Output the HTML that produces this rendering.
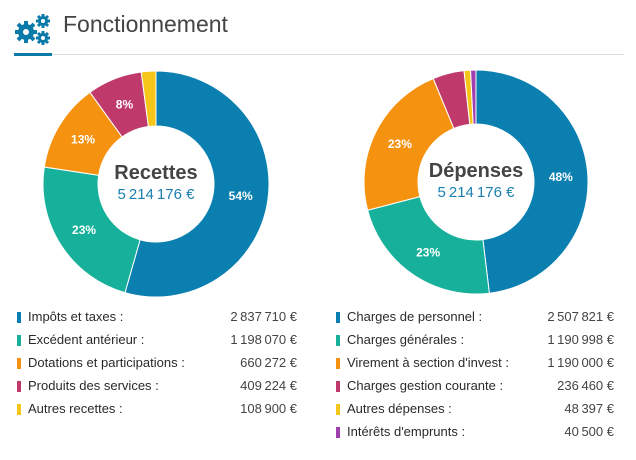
<!DOCTYPE html>
<html><head><meta charset="utf-8"><style>
body{margin:0;width:636px;height:460px;background:#fff;font-family:"Liberation Sans",sans-serif;position:relative;overflow:hidden}
.t{position:absolute;font-size:13px;color:#2a2a2a}
.v{position:absolute;font-size:13px;color:#444;text-align:right}
.m{position:absolute;width:4px;height:11px}
</style></head><body>
<svg style="position:absolute;left:14px;top:12px" width="40" height="34" viewBox="0 0 40 34">
<g fill="#0a7aa8"><circle cx="12" cy="20" r="8"/><g stroke="#0a7aa8" stroke-width="4"><line x1="12" y1="9" x2="12" y2="31"/><line x1="1" y1="20" x2="23" y2="20"/><line x1="4" y1="12" x2="20" y2="28"/><line x1="20" y1="12" x2="4" y2="28"/></g><circle cx="12" cy="20" r="3" fill="#fff"/>
<circle cx="29" cy="9" r="5"/><g stroke="#0a7aa8" stroke-width="3"><line x1="29" y1="2" x2="29" y2="16"/><line x1="22" y1="9" x2="36" y2="9"/><line x1="24" y1="4" x2="34" y2="14"/><line x1="34" y1="4" x2="24" y2="14"/></g><circle cx="29" cy="9" r="2" fill="#fff"/>
<circle cx="29" cy="26" r="5"/><g stroke="#0a7aa8" stroke-width="3"><line x1="29" y1="19" x2="29" y2="33"/><line x1="22" y1="26" x2="36" y2="26"/><line x1="24" y1="21" x2="34" y2="31"/><line x1="34" y1="21" x2="24" y2="31"/></g><circle cx="29" cy="26" r="2" fill="#fff"/></g></svg>
<div style="position:absolute;left:63px;top:11px;font-size:23px;color:#444">Fonctionnement</div>
<div style="position:absolute;left:14px;top:54px;width:610px;height:1px;background:#ddd"></div>
<div style="position:absolute;left:14px;top:53px;width:38px;height:3px;background:#0a7aa8"></div>
<svg id="chart" style="position:absolute;left:0;top:0" width="636" height="300"></svg>
<div id="legend"></div>
<script>
const recLabels=["Impôts et taxes :","Excédent antérieur :","Dotations et participations :","Produits des services :","Autres recettes :"];
const recValues=[2837710,1198070,660272,409224,108900];
const depLabels=["Charges de personnel :","Charges générales :","Virement à section d'invest :","Charges gestion courante :","Autres dépenses :","Intérêts d'emprunts :"];
const depValues=[2507821,1190998,1190000,236460,48397,40500];
const colors=["#0a7fb0","#17b09a","#f5920f","#c0396b","#f5c518","#a040b0"];
const svg=document.getElementById('chart');const NS="http://www.w3.org/2000/svg";
function fmt(n){return n.toString().replace(/\B(?=(\d{3})+(?!\d))/g,"\u202f")}
function donut(cx,cy,R,r,vals,title,name){
 const tot=vals.reduce((a,b)=>a+b,0);let a0=-Math.PI/2;
 vals.forEach((v,i)=>{const a1=a0+v/tot*2*Math.PI;const lg=(a1-a0)>Math.PI?1:0;
  const p=document.createElementNS(NS,'path');
  const d=`M${cx+R*Math.cos(a0)},${cy+R*Math.sin(a0)}A${R},${R} 0 ${lg} 1 ${cx+R*Math.cos(a1)},${cy+R*Math.sin(a1)}L${cx+r*Math.cos(a1)},${cy+r*Math.sin(a1)}A${r},${r} 0 ${lg} 0 ${cx+r*Math.cos(a0)},${cy+r*Math.sin(a0)}Z`;
  p.setAttribute('d',d);p.setAttribute('fill',colors[i]);p.setAttribute('stroke','#fff');p.setAttribute('stroke-width','1');
  
  
  svg.appendChild(p);
  const pct=Math.round(v/tot*100);
  if(pct>=8){const am=(a0+a1)/2,rm=(R+r)/2;const t=document.createElementNS(NS,'text');
   t.setAttribute('x',cx+rm*Math.cos(am));t.setAttribute('y',cy+rm*Math.sin(am)+4);t.setAttribute('text-anchor','middle');
   t.setAttribute('fill','#fff');t.setAttribute('font-size','12');t.setAttribute('font-weight','bold');t.textContent=pct+'%';
   
   
   svg.appendChild(t);}
  a0=a1;});
 const t1=document.createElementNS(NS,'text');t1.setAttribute('x',cx);t1.setAttribute('y',cy-5);t1.setAttribute('text-anchor','middle');t1.setAttribute('font-size','20');t1.setAttribute('font-weight','bold');t1.setAttribute('fill','#444');t1.textContent=title;
 
 
 svg.appendChild(t1);
 const t2=document.createElementNS(NS,'text');t2.setAttribute('x',cx);t2.setAttribute('y',cy+15);t2.setAttribute('text-anchor','middle');t2.setAttribute('font-size','15');t2.setAttribute('fill','#1a7fb0');t2.textContent=fmt(tot)+' €';
 
 
 svg.appendChild(t2);
}
donut(156,184,113,58,recValues,'Recettes','recettes');
donut(476,182,112,58,depValues,'Dépenses','depenses');
const lg=document.getElementById('legend');
function legend(labels,vals,mx,vr,name){labels.forEach((l,i)=>{const y=309+i*23;
 const m=document.createElement('div');m.className='m';m.style.left=mx+'px';m.style.top=(y+3)+'px';m.style.background=colors[i];
 
 
 lg.appendChild(m);
 const t=document.createElement('div');t.className='t';t.style.left=(mx+11)+'px';t.style.top=y+'px';t.textContent=l;
 
 
 lg.appendChild(t);
 const v=document.createElement('div');v.className='v';v.style.right=(636-vr)+'px';v.style.top=y+'px';v.textContent=fmt(vals[i])+' €';
 
 
 lg.appendChild(v);});}
legend(recLabels,recValues,17,297,'recettes');
legend(depLabels,depValues,336,614,'depenses');
</script>
</body></html>
